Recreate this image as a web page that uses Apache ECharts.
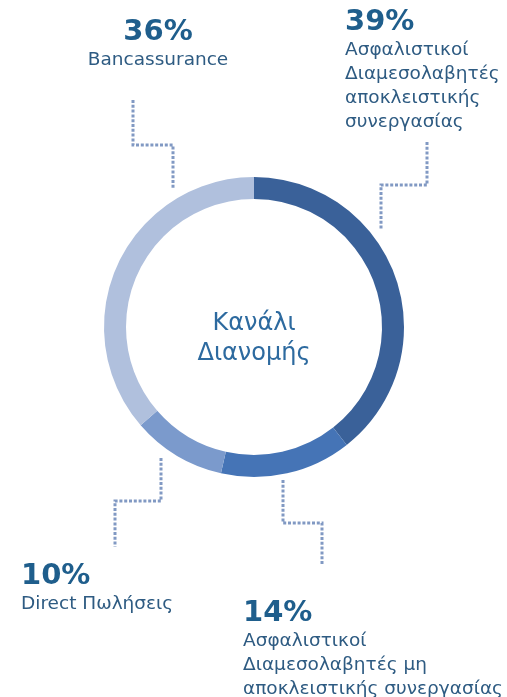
<!DOCTYPE html>
<html>
<head>
<meta charset="utf-8">
<style>
  html, body { margin: 0; padding: 0; background: #ffffff; }
  #chart { width: 507px; height: 697px; }
</style>
<script src="https://cdn.jsdelivr.net/npm/echarts@6/dist/echarts.min.js"></script>
</head>
<body>
<div id="chart"></div>
<script>
// Distribution channels and their share (%)
const channels = [
  'Ασφαλιστικοί\nΔιαμεσολαβητές\nαποκλειστικής\nσυνεργασίας',
  'Ασφαλιστικοί\nΔιαμεσολαβητές μη\nαποκλειστικής συνεργασίας',
  'Direct Πωλήσεις',
  'Bancassurance'
];
const shares = [39, 14, 10, 36];
const sliceColors = ['#3a6199', '#4574b6', '#7b9acc', '#b0c0dd'];
const centerTitle = 'Κανάλι\nΔιανομής';

// Layout of the ring
const ringCenter = [254, 327];
const ringRadius = [128, 150];

// Where each callout sits (x, y of the text block, alignment)
const calloutSpots = [
  { x: 345, y: 7, align: 'left' },
  { x: 243, y: 598, align: 'left' },
  { x: 21, y: 561, align: 'left' },
  { x: 158, y: 17, align: 'center' }
];

// Stepped dotted leader lines joining the callouts to the ring
const leaderPaths = [
  [[427, 142], [427, 185], [381, 185], [381, 230]],
  [[283, 480], [283, 523], [322, 523], [322, 565]],
  [[161, 458], [161, 501], [115, 501], [115, 547]],
  [[133, 100], [133, 145], [173, 145], [173, 188]]
];

const chart = echarts.init(document.getElementById('chart'), null, { renderer: 'canvas' });

const leaderGraphics = leaderPaths.map(function (pts) {
  return {
    type: 'polyline',
    silent: true,
    shape: { points: pts },
    style: {
      stroke: '#8199c3',
      lineWidth: 3,
      lineDash: [3, 1.8],
      fill: null
    },
    z: 1
  };
});

chart.setOption({
  animation: false,
  backgroundColor: '#ffffff',
  graphic: leaderGraphics.concat([
    {
      type: 'text',
      x: ringCenter[0],
      y: ringCenter[1] + 12,
      silent: true,
      style: {
        text: centerTitle,
        fill: '#2d6a9f',
        font: '24px "DejaVu Sans", sans-serif',
        align: 'center',
        verticalAlign: 'middle',
        lineHeight: 30
      },
      z: 5
    }
  ]),
  series: [
    {
      type: 'pie',
      center: ringCenter,
      radius: ringRadius,
      startAngle: 90,
      clockwise: true,
      avoidLabelOverlap: false,
      emphasis: { disabled: true },
      itemStyle: { borderWidth: 0 },
      labelLine: { show: false },
      label: {
        show: true,
        position: 'outside',
        formatter: function (p) {
          return '{p|' + p.value + '%}\n{n|' + p.name.split('\n').join('}\n{n|') + '}';
        },
        rich: {
          p: {
            fontFamily: '"DejaVu Sans", sans-serif',
            fontSize: 29,
            fontWeight: 'bold',
            color: '#1f5e8c',
            lineHeight: 31
          },
          n: {
            fontFamily: '"DejaVu Sans", sans-serif',
            fontSize: 18.5,
            color: '#2e5b82',
            lineHeight: 24
          }
        }
      },
      labelLayout: function (params) {
        const s = calloutSpots[params.dataIndex];
        return { x: s.x, y: s.y, align: s.align, verticalAlign: 'top' };
      },
      data: channels.map(function (name, i) {
        return { name: name, value: shares[i], itemStyle: { color: sliceColors[i] } };
      })
    }
  ]
});
</script>
</body>
</html>
